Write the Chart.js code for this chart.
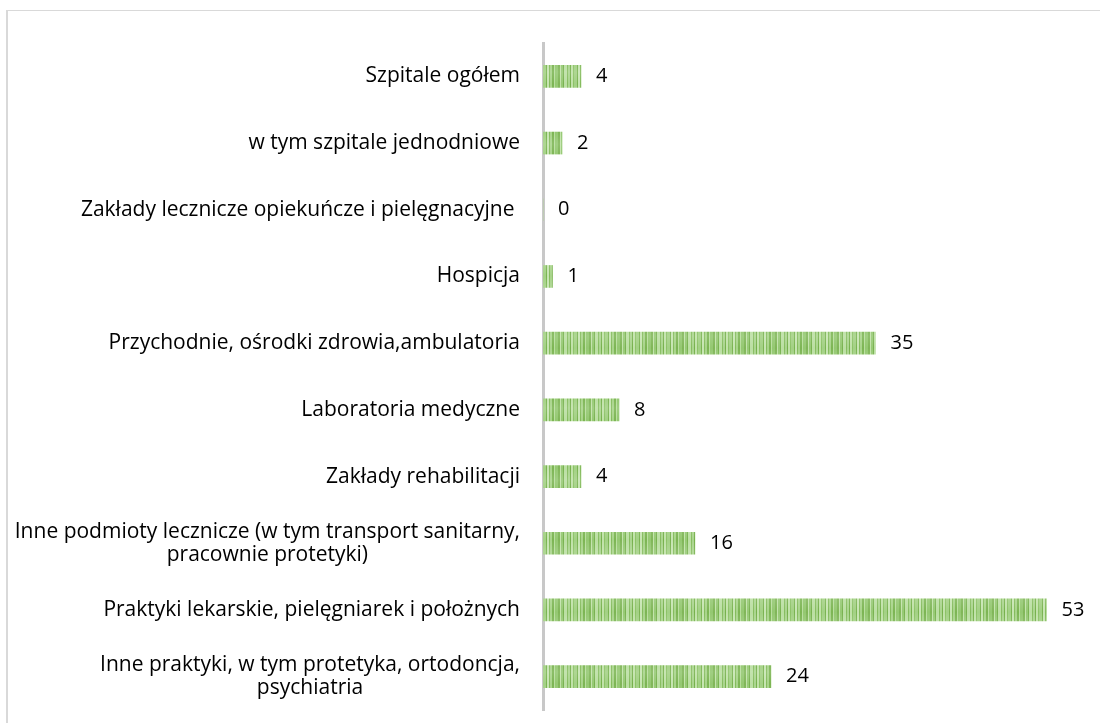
<!DOCTYPE html>
<html>
<head>
<meta charset="utf-8">
<script src="https://cdn.jsdelivr.net/npm/chart.js@4/dist/chart.umd.min.js"></script>
<style>
  html, body { margin: 0; padding: 0; background: #fff; overflow: hidden; }
  #frame { position: absolute; left: 6px; top: 10px; width: 1200px; height: 800px; border-left: 2px solid #d9d9d9; border-top: 1px solid #d9d9d9; }
  #wrap { position: absolute; left: 0; top: 0; width: 1100px; height: 723px; }
</style>
</head>
<body>
<div id="frame"></div>
<div id="wrap"><canvas id="c" width="1100" height="723"></canvas></div>
<script>
const categories = [
  "Szpitale ogółem",
  "w tym szpitale jednodniowe",
  "Zakłady lecznicze opiekuńcze i pielęgnacyjne ",
  "Hospicja",
  "Przychodnie, ośrodki zdrowia,ambulatoria",
  "Laboratoria medyczne",
  "Zakłady rehabilitacji",
  ["Inne podmioty lecznicze (w tym transport sanitarny,", "pracownie protetyki)"],
  "Praktyki lekarskie, pielęgniarek i położnych",
  ["Inne praktyki, w tym protetyka, ortodoncja,", "psychiatria"]
];
const values = [4, 2, 0, 1, 35, 8, 4, 16, 53, 24];

const FONT = "'Open Sans', 'Noto Sans', sans-serif";
const LABEL_SIZE = 21;
const VALUE_SIZE = 20;

function makePattern() {
  const stripes = [
    [2,'#80b658'],[1,'#c2e3ab'],[2,'#96c974'],[1,'#78b24f'],[3,'#bbdfa3'],[1,'#86bd5f'],
    [2,'#aad58e'],[1,'#76b04c'],[2,'#c0e2a8'],[1,'#8cc266'],[3,'#a3d184'],[1,'#7ab351'],
    [2,'#c6e5b1'],[1,'#84bb5c'],[2,'#a8d48a'],[2,'#7cb553'],[1,'#b8de9e'],[3,'#94c871']
  ];
  const w = stripes.reduce((s, a) => s + a[0], 0);
  const pc = document.createElement('canvas');
  pc.width = w; pc.height = 24;
  const g = pc.getContext('2d');
  let x = 0;
  for (const [sw, col] of stripes) { g.fillStyle = col; g.fillRect(x, 0, sw, 24); x += sw; }
  const grad = g.createLinearGradient(0, 0, 0, 24);
  grad.addColorStop(0, 'rgba(255,255,255,0.12)');
  grad.addColorStop(0.5, 'rgba(255,255,255,0)');
  grad.addColorStop(1, 'rgba(255,255,255,0.12)');
  g.fillStyle = grad; g.fillRect(0, 0, w, 24);
  return document.getElementById('c').getContext('2d').createPattern(pc, 'repeat');
}

const yLabelsPlugin = {
  id: 'yLabels',
  afterDraw(chart) {
    const ctx = chart.ctx;
    const ys = chart.scales.y;
    ctx.save();
    ctx.font = LABEL_SIZE + "px " + FONT;
    ctx.fillStyle = '#000';
    ctx.textBaseline = 'middle';
    ctx.textAlign = 'center';
    const right = chart.chartArea.left - 23;
    const lh = 23;
    categories.forEach((lab, i) => {
      const lines = Array.isArray(lab) ? lab : [lab];
      const W = Math.max(...lines.map(l => ctx.measureText(l).width));
      const cx = right - W / 2;
      const y = ys.getPixelForValue(i);
      lines.forEach((l, j) => {
        ctx.fillText(l, cx, y + (j - (lines.length - 1) / 2) * lh);
      });
    });
    ctx.restore();
  }
};

const valueLabelsPlugin = {
  id: 'valueLabels',
  afterDatasetsDraw(chart) {
    const ctx = chart.ctx;
    const meta = chart.getDatasetMeta(0);
    ctx.save();
    ctx.font = VALUE_SIZE + "px " + FONT;
    ctx.fillStyle = '#000';
    ctx.textBaseline = 'middle';
    ctx.textAlign = 'left';
    meta.data.forEach((bar, i) => {
      ctx.fillText(String(values[i]), bar.x + 15, bar.y);
    });
    ctx.restore();
  }
};

new Chart(document.getElementById('c'), {
  type: 'bar',
  data: {
    labels: categories,
    datasets: [{
      data: values,
      backgroundColor: makePattern(),
      barThickness: 22,
      borderWidth: 0
    }]
  },
  options: {
    indexAxis: 'y',
    responsive: false,
    animation: false,
    layout: { padding: { top: 43, bottom: 13, right: 25, left: 0 } },
    plugins: { legend: { display: false }, tooltip: { enabled: false } },
    scales: {
      x: { display: false, min: 0, max: 56 },
      y: {
        z: 1,
        ticks: { display: false },
        grid: { display: true, drawOnChartArea: false, drawTicks: false },
        border: { display: true, color: '#c8c8c8', width: 3 },
        afterFit(scale) { scale.width = 543; }
      }
    }
  },
  plugins: [yLabelsPlugin, valueLabelsPlugin]
});
</script>
</body>
</html>
